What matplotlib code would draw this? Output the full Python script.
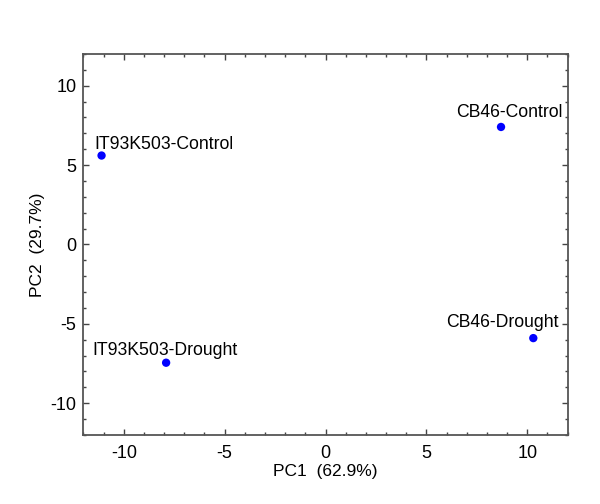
import matplotlib
matplotlib.use("Agg")
import matplotlib.pyplot as plt
from matplotlib.ticker import MultipleLocator

plt.rcParams["font.family"] = ["Liberation Sans", "DejaVu Sans"]
plt.rcParams["axes.unicode_minus"] = False

# PCA scores
samples = ["IT93K503-Control", "CB46-Control", "CB46-Drought", "IT93K503-Drought"]
pc1 = [-11.1, 8.7, 10.3, -7.9]
pc2 = [5.6, 7.4, -5.9, -7.45]

# label offsets in pixels (dx, dy) and alignment
offsets = [(-7, 7, "left"), (61, 10, "right"), (25, 11, "right"), (-1, 8, "center")]

fig = plt.figure(figsize=(6, 5.04), dpi=100)
ax = fig.add_axes([0.139, 0.137, 0.807, 0.756])

ax.scatter(pc1, pc2, s=36, color="blue", zorder=3, edgecolors="none")

for name, x, y, (dx, dy, ha) in zip(samples, pc1, pc2, offsets):
    ax.annotate(name, (x, y), xytext=(dx * 0.72, dy * 0.72), textcoords="offset points",
                ha=ha, va="baseline", fontsize=12.7, color="black")

ax.set_xlim(-12, 12)
ax.set_ylim(-12, 12)
ax.xaxis.set_major_locator(MultipleLocator(5))
ax.yaxis.set_major_locator(MultipleLocator(5))
ax.xaxis.set_minor_locator(MultipleLocator(1))
ax.yaxis.set_minor_locator(MultipleLocator(1))
ax.tick_params(which="both", direction="in", top=True, right=True, colors="#444444",
               labelcolor="black", labelsize=13)
ax.tick_params(which="major", length=4.5, width=1)
ax.tick_params(which="minor", length=2.5, width=1)
ax.tick_params(axis="x", pad=7)
ax.tick_params(axis="y", pad=5)

for sp in ax.spines.values():
    sp.set_color("#555555")
    sp.set_linewidth(1.3)

ax.set_xlabel("PC1  (62.9%)", fontsize=12.5, labelpad=2)
ax.set_ylabel("PC2  (29.7%)", fontsize=12.5, labelpad=4)

fig.savefig("out.png", dpi=100)
